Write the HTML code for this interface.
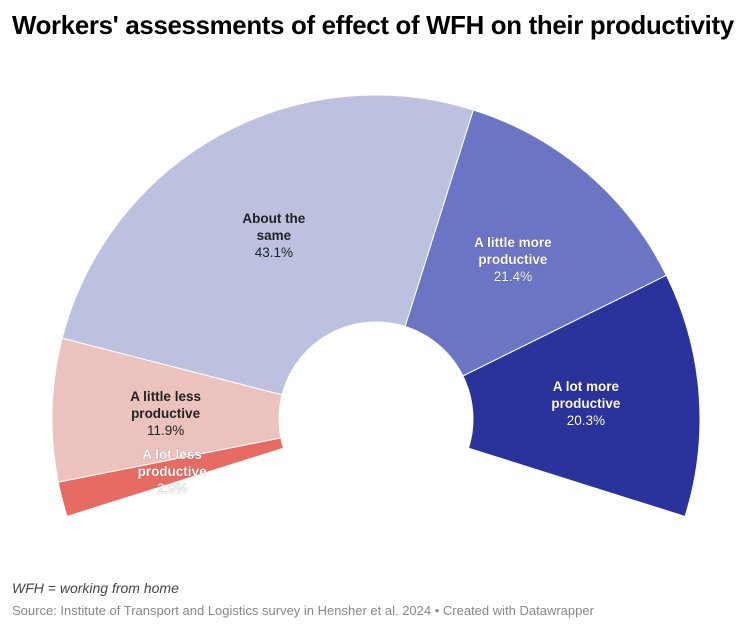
<!DOCTYPE html>
<html><head><meta charset="utf-8"><style>
body{margin:0;background:#fff;width:754px;height:632px;overflow:hidden;font-family:"Liberation Sans",sans-serif}
#title{position:absolute;left:12px;top:12px;font-size:25.8px;font-weight:bold;color:#000;letter-spacing:-0.3px}
#note{position:absolute;left:12px;top:580px;font-size:14px;font-style:italic;color:#444}
#src{position:absolute;left:12px;top:603px;font-size:13px;color:#888}
svg{position:absolute;left:0;top:0}
</style></head><body>
<div id="title">Workers' assessments of effect of WFH on their productivity</div>
<svg id="chart" width="754" height="632"></svg>
<div id="note">WFH = working from home</div>
<div id="src">Source: Institute of Transport and Logistics survey in Hensher et al. 2024 • Created with Datawrapper</div>
<script>
const categories=["A lot less productive","A little less productive","About the same","A little more productive","A lot more productive"];
const labelLines=[["A lot less","productive"],["A little less","productive"],["About the","same"],["A little more","productive"],["A lot more","productive"]];
const values=[2.9,11.9,43.1,21.4,20.3];
const colors=["#e56b63","#ebc2be","#bcc1e0","#6c75c3","#29339b"];
const darkText=[false,true,true,false,false];
const cx=376,cy=419,R=324,r=97,span=215,start=180+(span-180)/2;
const svg=document.getElementById('chart');
const NS="http://www.w3.org/2000/svg";
const total=values.reduce((a,b)=>a+b,0);
function pt(t,rad){const p=(start-t)*Math.PI/180;return [cx+rad*Math.cos(p),cy-rad*Math.sin(p)];}
let acc=0;
values.forEach((v,i)=>{
 const t0=acc/total*span,t1=(acc+v)/total*span;acc+=v;
 const a=pt(t0,R),b=pt(t1,R),c=pt(t1,r),d=pt(t0,r);
 const lg=(t1-t0)>180?1:0;
 const path=document.createElementNS(NS,'path');
 path.setAttribute('d',`M${a[0]},${a[1]}A${R},${R} 0 ${lg} 1 ${b[0]},${b[1]}L${c[0]},${c[1]}A${r},${r} 0 ${lg} 0 ${d[0]},${d[1]}Z`);
 path.setAttribute('fill',colors[i]);path.setAttribute('stroke','#fff');path.setAttribute('stroke-width','1');
 
 
 svg.appendChild(path);
});
acc=0;
values.forEach((v,i)=>{
 const tm=(acc+v/2)/total*span;acc+=v;
 const m=pt(tm,(R+r)/2);
 const g=document.createElementNS(NS,'text');
 g.setAttribute('x',m[0]);g.setAttribute('y',m[1]-12);g.setAttribute('text-anchor','middle');
 g.setAttribute('font-size','13.5');
 g.setAttribute('fill',darkText[i]?'#222':'#fff');
 if(!darkText[i]){g.setAttribute('stroke','rgba(0,0,0,0.35)');g.setAttribute('stroke-width','0.6');g.setAttribute('paint-order','stroke');}
 
 
 const lines=[...labelLines[i],v.toFixed(1)+'%'];
 lines.forEach((s,k)=>{const ts=document.createElementNS(NS,'tspan');ts.setAttribute('x',m[0]);ts.setAttribute('dy',k==0?0:17);if(k<2)ts.setAttribute('font-weight','bold');ts.textContent=s;g.appendChild(ts);});
 svg.appendChild(g);
});
</script>
</body></html>
